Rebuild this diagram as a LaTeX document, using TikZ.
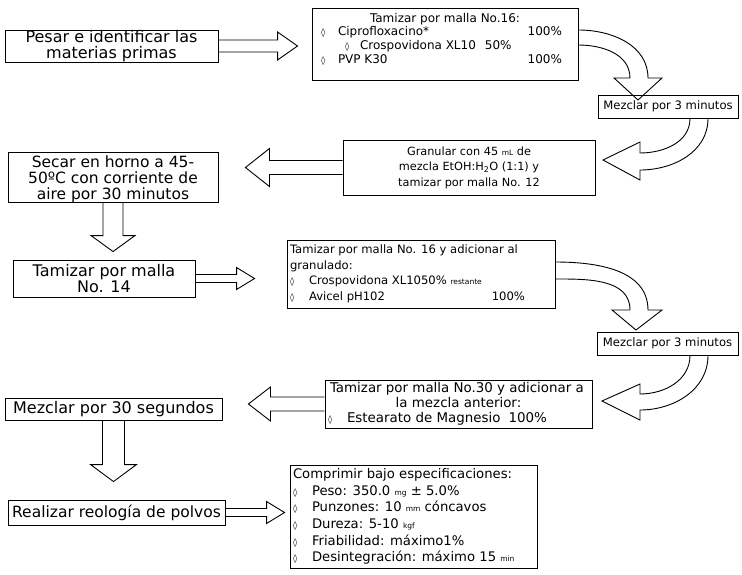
\documentclass[tikz,border=0pt]{standalone}
\usepackage{fontspec}
\setmainfont{DejaVu Sans}
\usetikzlibrary{calc}
\tikzset{
  box/.style={draw, line width=0.9pt, inner xsep=4pt, inner ysep=2pt},
  lbox/.style={draw, line width=0.9pt, inner xsep=3pt, inner ysep=2pt},
  blk/.style={draw, line width=0.9pt, line join=miter},
}
\newcommand\pb[4]{\parbox[c][#2][#3]{#1}{#4}}
\newcommand\fsL{\fontsize{15.5}{16}\selectfont}
\newcommand\fsR{\fontsize{11.6}{15.5}\selectfont}
\newcommand\sm[1]{{\fontsize{7.5}{9}\selectfont #1}}
\newcommand\dia{{\fontsize{8.5}{9}\selectfont ◊}}
\newcommand\bul{\makebox[19pt][l]{\dia}}
% horizontal right arrow: start, tip, shaft half width, head half width, head length
\newcommand\rarr[5]{\draw[blk] let \p1=#1, \p2=#2 in
  (\x1,\y1+#3) -- (\x2-#5,\y1+#3) -- (\x2-#5,\y1+#4) -- (\x2,\y1)
  -- (\x2-#5,\y1-#4) -- (\x2-#5,\y1-#3) -- (\x1,\y1-#3);}
\newcommand\larr[5]{\draw[blk] let \p1=#1, \p2=#2 in
  (\x1,\y1+#3) -- (\x2+#5,\y1+#3) -- (\x2+#5,\y1+#4) -- (\x2,\y1)
  -- (\x2+#5,\y1-#4) -- (\x2+#5,\y1-#3) -- (\x1,\y1-#3);}
\newcommand\darr[5]{\draw[blk] let \p1=#1, \p2=#2 in
  (\x1+#3,\y1) -- (\x1+#3,\y2+#5) -- (\x1+#4,\y2+#5) -- (\x1,\y2)
  -- (\x1-#4,\y2+#5) -- (\x1-#3,\y2+#5) -- (\x1-#3,\y1);}
\begin{document}
\begin{tikzpicture}[x=1pt,y=-1pt]
\useasboundingbox (0,0) rectangle (742,574);
\fill[white] (0,0) rectangle (742,574);

% boxes
\node[box] (A) at (111.5,46) {\pb{205pt}{28pt}{c}{\fontsize{16}{15.5}\selectfont\centering Pesar e identificar las\\materias primas}};

\node[box] (B) at (445,44) {\pb{258pt}{68pt}{t}{\fontsize{12}{13.8}\selectfont\vspace*{3pt}%
\makebox[\linewidth][c]{Tamizar por malla No.16:}\\
\makebox[\linewidth][l]{\makebox[22pt][l]{\hspace{5pt}\dia}Ciprofloxacino*\hfill 100\%\hspace{12pt}}\\
\makebox[\linewidth][l]{\makebox[44pt][l]{\hspace{29pt}\dia}Crospovidona XL10\hspace{9pt}50\%}\\
\makebox[\linewidth][l]{\makebox[22pt][l]{\hspace{5pt}\dia}PVP K30\hfill 100\%\hspace{12pt}}}};

\node[box] (C) at (668,106.5) {\pb{132pt}{19pt}{c}{\fsR\centering Mezclar por 3 minutos}};

\node[box] (D) at (469,167.5) {\pb{244pt}{51pt}{c}{\fontsize{11.3}{15.5}\selectfont\centering Granular con 45 \sm{mL} de\\mezcla EtOH:H\textsubscript{2}O (1:1) y\\tamizar por malla No. 12}};

\node[box] (E) at (113,177) {\pb{202pt}{46pt}{b}{\fontsize{15.5}{16}\selectfont\centering Secar en horno a 45-\\50ºC con corriente de\\aire por 30 minutos\\[-3pt]}};

\node[box] (F) at (104,278.5) {\pb{174pt}{33pt}{c}{\fontsize{16}{16}\selectfont\centering Tamizar por malla\\No. 14}};

\node[lbox] (G) at (421,274) {\pb{262pt}{64pt}{c}{\fsR
\makebox[\linewidth][l]{Tamizar por malla No. 16 y adicionar al}\\
\makebox[\linewidth][l]{granulado:}\\
\makebox[\linewidth][l]{\bul Crospovidona XL1050\% \sm{restante}}\\
\makebox[\linewidth][l]{\bul Avicel pH102\hfill 100\%\hspace{27pt}}}};

\node[box] (H) at (667.5,343.5) {\pb{133pt}{19pt}{c}{\fsR\centering Mezclar por 3 minutos}};

\node[lbox] (I) at (458.5,404) {\pb{261pt}{44pt}{c}{\fontsize{13.4}{15}\selectfont
\makebox[\linewidth][l]{\hspace{2pt}Tamizar por malla No.30 y adicionar a}\\
\makebox[\linewidth][c]{la mezcla anterior:}\\
\makebox[\linewidth][l]{\bul Estearato de Magnesio\hspace{8pt}100\%}}};

\node[box] (J) at (113.5,409) {\pb{209pt}{18pt}{c}{\fontsize{16}{16}\selectfont\centering Mezclar por 30 segundos}};

\node[box] (K) at (116.5,512.5) {\pb{209pt}{21pt}{c}{\fsL\centering Realizar reología de polvos}};

\node[lbox] (L) at (413.5,516.5) {\pb{241pt}{99pt}{c}{\fontsize{13.2}{16.6}\selectfont
\makebox[\linewidth][l]{Comprimir bajo especificaciones:}\\
\makebox[\linewidth][l]{\bul Peso: 350.0 \sm{mg} ± 5.0\%}\\
\makebox[\linewidth][l]{\bul Punzones: 10 \sm{mm} cóncavos}\\
\makebox[\linewidth][l]{\bul Dureza: 5-10 \sm{kgf}}\\
\makebox[\linewidth][l]{\bul Friabilidad: máximo1\%}\\
\makebox[\linewidth][l]{\bul Desintegración: máximo 15 \sm{min}}}};

% straight block arrows
\rarr{(A.east)}{($(B.west)+(-14,0)$)}{6pt}{14pt}{20pt}
\larr{(D.west)}{($(E.east)+(27,0)$)}{7pt}{19pt}{24pt}
\darr{(E.south)}{($(F.north)+(0,-8)$)}{10pt}{22pt}{16pt}
\rarr{(F.east)}{($(G.west)+(-32,0)$)}{4pt}{11pt}{18pt}
\larr{(I.west)}{($(J.east)+(26,0)$)}{7pt}{17pt}{22pt}
\darr{(J.south)}{($(K.north)+(0,-18)$)}{11pt}{23pt}{17pt}
\rarr{(K.east)}{($(L.west)+(-5,0)$)}{4pt}{11pt}{18pt}

% curved block arrows
\draw[blk] ($(B.east)+(0,-14)$) to[out=0,in=90] (648,78) -- (662,78) -- (638,100)
  -- (614,78) -- (630,78) to[out=90,in=0] ($(B.east)+(0,1)$);
\draw[blk] ($(C.south)+(40,0)$) to[out=-90,in=0] (640,170) -- (640,180) -- (603,160)
  -- (640,142) -- (640,153) to[out=0,in=-90] ($(C.south)+(22,0)$);
\draw[blk] ($(G.east)+(0,-12)$) to[out=0,in=90] (648,310) -- (662,310) -- (636,330)
  -- (612,310) -- (630,310) to[out=90,in=0] ($(G.east)+(0,5)$);
\draw[blk] ($(H.south)+(40.5,0)$) to[out=-90,in=0] (640,410) -- (640,420) -- (602,401)
  -- (640,384) -- (640,394) to[out=0,in=-90] ($(H.south)+(22.5,0)$);
\end{tikzpicture}
\end{document}
